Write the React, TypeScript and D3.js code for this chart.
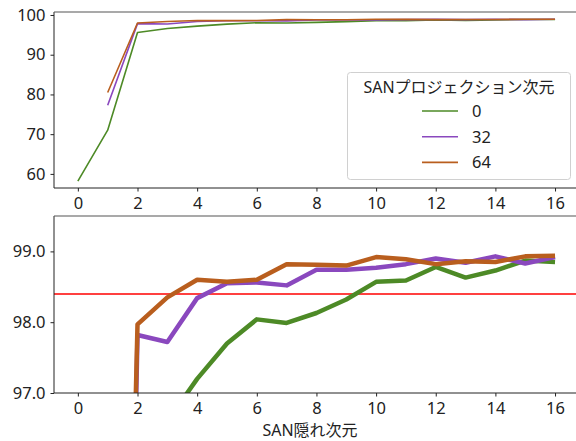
import { useEffect, useRef } from "react";
import * as d3 from "d3";

const hiddenDims = [0, 1, 2, 3, 4, 5, 6, 7, 8, 9, 10, 11, 12, 13, 14, 15, 16];
const projDims = ["0", "32", "64"];

// accuracy per SAN hidden dim, one list per projection dim (null = not run)
const acc0 = [58.2, 71.0, 95.6, 96.6, 97.2, 97.7, 98.04, 97.99, 98.13, 98.32, 98.57, 98.59, 98.78, 98.63, 98.73, 98.87, 98.85];
const acc32 = [null, 77.3, 97.82, 97.72, 98.34, 98.55, 98.56, 98.52, 98.74, 98.74, 98.77, 98.82, 98.9, 98.84, 98.93, 98.83, 98.92];
const acc64 = [null, 80.5, 97.97, 98.35, 98.6, 98.57, 98.6, 98.82, 98.81, 98.8, 98.92, 98.89, 98.82, 98.86, 98.85, 98.93, 98.94];
const baseline = 98.4;

const colors = ["#4d8a26", "#8a48be", "#b95e1e"];
const topTicks = [60, 70, 80, 90, 100];
const bottomTicks = [97.0, 98.0, 99.0];
const xTicks = [0, 2, 4, 6, 8, 10, 12, 14, 16];

const W = 576;
const H = 441;
const FONT = "'Noto Sans', 'Noto Sans CJK JP', sans-serif";

const App = () => {
  const svgRef = useRef(null);

  useEffect(() => {
    const svg = d3.select(svgRef.current);
    svg.selectAll("*").remove();

    const series = [acc0, acc32, acc64];
    const x = d3.scaleLinear().domain([-0.8, 16.8]).range([54, 578.9]);
    const yTop = d3.scaleLinear().domain([56.45, 100.75]).range([188, 12]);
    const yBot = d3.scaleLinear().domain([97.0, 99.5]).range([393, 216]);

    svg.append("rect").attr("width", W).attr("height", H).attr("fill", "#fff");

    const defs = svg.append("defs");
    defs.append("clipPath").attr("id", "clipTop").append("rect")
      .attr("x", 54).attr("y", 12).attr("width", 530).attr("height", 176);
    defs.append("clipPath").attr("id", "clipBot").append("rect")
      .attr("x", 54).attr("y", 216).attr("width", 530).attr("height", 177);

    const drawPanel = (y, ticks, fmt, clip, lw, top, bottom) => {
      const g = svg.append("g");
      const plot = g.append("g").attr("clip-path", `url(#${clip})`);

      if (clip === "clipBot") {
        plot.append("line")
          .attr("x1", 54).attr("x2", 580)
          .attr("y1", y(baseline)).attr("y2", y(baseline))
          .attr("stroke", "#ff0000").attr("stroke-width", 1.5);
      }

      series.forEach((s, i) => {
        const line = d3.line()
          .defined((d) => d != null)
          .x((d, j) => x(hiddenDims[j]))
          .y((d) => y(d));
        plot.append("path")
          .datum(s)
          .attr("d", line)
          .attr("fill", "none")
          .attr("stroke", colors[i])
          .attr("stroke-width", lw)
          .attr("stroke-linejoin", "round");
      });

      const yAxis = g.append("g")
        .attr("transform", "translate(54,0)")
        .call(d3.axisLeft(y).tickValues(ticks).tickFormat(fmt).tickSize(3.5).tickPadding(5));
      const xAxis = g.append("g")
        .attr("transform", `translate(0,${bottom})`)
        .call(d3.axisBottom(x).tickValues(xTicks).tickFormat(d3.format("d")).tickSize(3.5).tickPadding(6));
      [yAxis, xAxis].forEach((a) => {
        a.select(".domain").remove();
        a.selectAll("text").attr("font-family", FONT).attr("font-size", 16.5).attr("fill", "#222");
        a.selectAll("line").attr("stroke", "#222");
      });

      g.append("line").attr("x1", 54).attr("x2", 54).attr("y1", top).attr("y2", bottom)
        .attr("stroke", "#222").attr("stroke-width", 1);
      g.append("line").attr("x1", 54).attr("x2", W).attr("y1", bottom).attr("y2", bottom)
        .attr("stroke", "#222").attr("stroke-width", 1);
      g.append("line").attr("x1", 54).attr("x2", W).attr("y1", top).attr("y2", top)
        .attr("stroke", "#555").attr("stroke-width", 1.2);
    };

    drawPanel(yTop, topTicks, d3.format("d"), "clipTop", 1.6, 12, 188);
    drawPanel(yBot, bottomTicks, d3.format(".1f"), "clipBot", 4.5, 216, 393);

    // legend
    const lg = svg.append("g");
    lg.append("rect")
      .attr("x", 347.5).attr("y", 72.5).attr("width", 223).attr("height", 107)
      .attr("rx", 3).attr("fill", "#fff").attr("fill-opacity", 0.8)
      .attr("stroke", "#d0d0d0");
    lg.append("text")
      .attr("x", 459).attr("y", 93)
      .attr("text-anchor", "middle")
      .attr("font-family", FONT).attr("font-size", 16).attr("fill", "#222")
      .text("SANプロジェクション次元");
    projDims.forEach((p, i) => {
      const cy = 111 + i * 25.7;
      lg.append("line")
        .attr("x1", 422).attr("x2", 458).attr("y1", cy).attr("y2", cy)
        .attr("stroke", colors[i]).attr("stroke-width", 1.6);
      lg.append("text")
        .attr("x", 472).attr("y", cy).attr("dy", "0.36em")
        .attr("font-family", FONT).attr("font-size", 16.5).attr("fill", "#222")
        .text(p);
    });

    svg.append("text")
      .attr("x", 310).attr("y", 436)
      .attr("text-anchor", "middle")
      .attr("font-family", FONT).attr("font-size", 16).attr("fill", "#222")
      .text("SAN隠れ次元");
  }, []);

  return (
    <svg
      ref={svgRef}
      width={W}
      height={H}
      style={{ position: "absolute", left: 0, top: 0, display: "block" }}
    />
  );
};

export default App;
